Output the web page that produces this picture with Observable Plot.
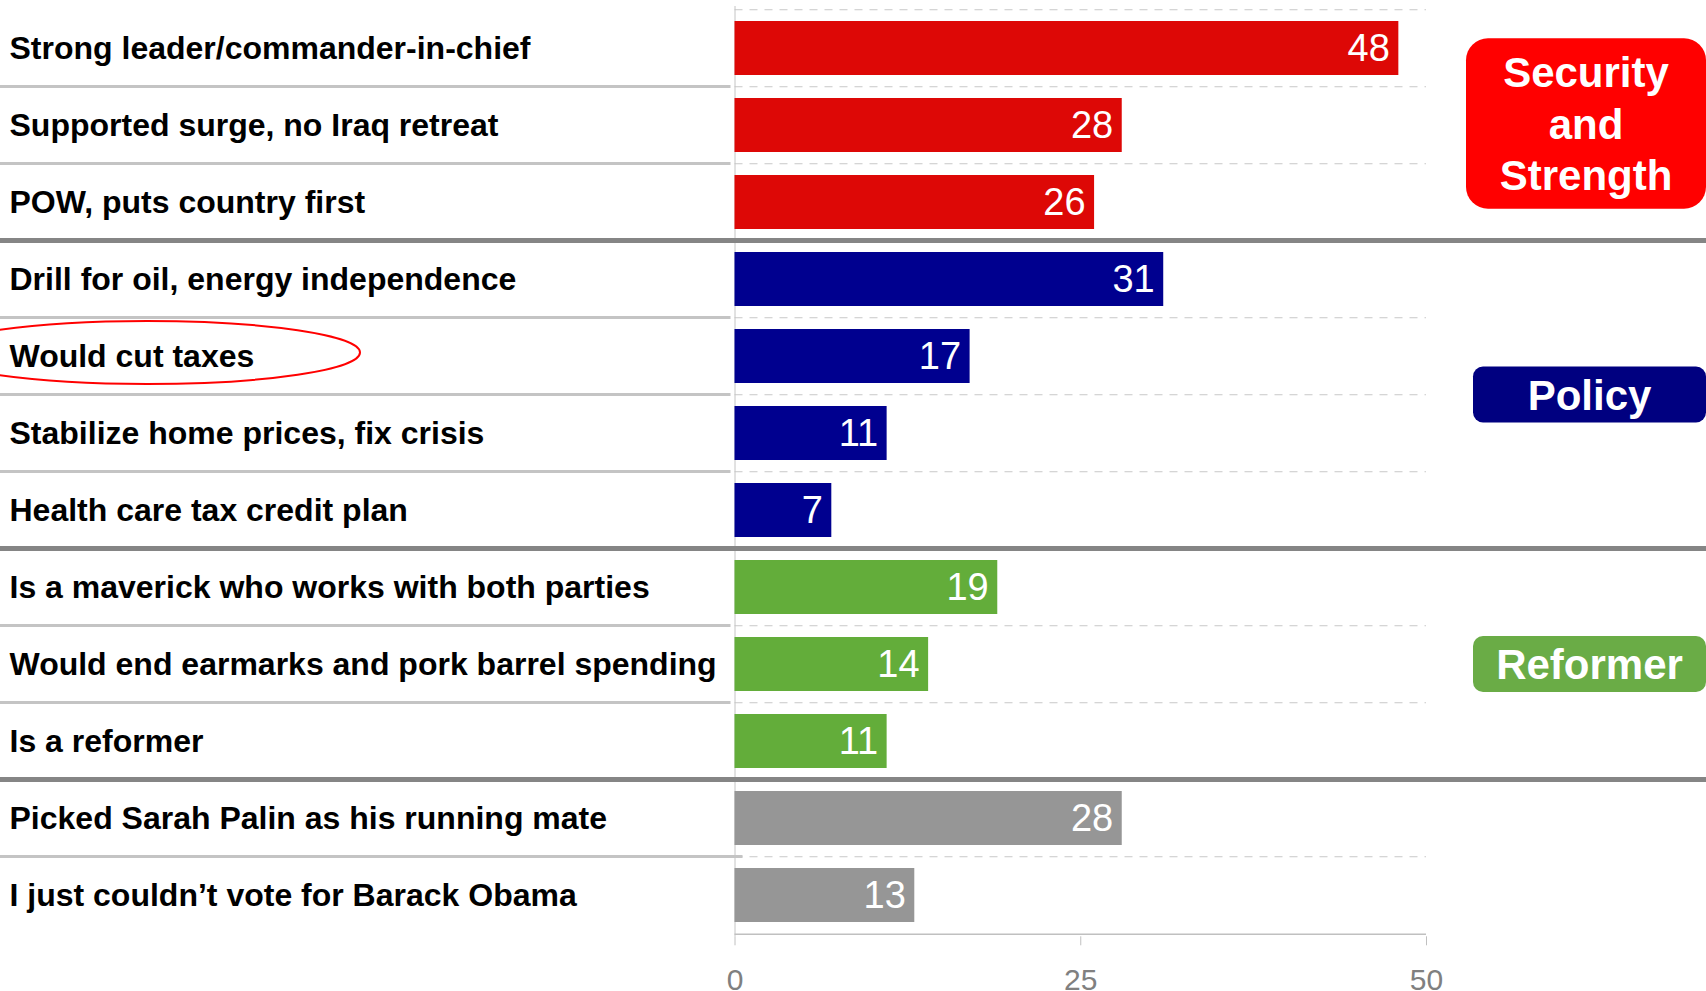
<!DOCTYPE html>
<html><head><meta charset="utf-8">
<script src="https://cdn.jsdelivr.net/npm/d3@7"></script>
<script src="https://cdn.jsdelivr.net/npm/@observablehq/plot@0.6"></script>
<style>body{margin:0;background:#fff;} svg{display:block;}</style>
</head><body><div id="chart"></div>
<script>
const categories = [
  "Strong leader/commander-in-chief",
  "Supported surge, no Iraq retreat",
  "POW, puts country first",
  "Drill for oil, energy independence",
  "Would cut taxes",
  "Stabilize home prices, fix crisis",
  "Health care tax credit plan",
  "Is a maverick who works with both parties",
  "Would end earmarks and pork barrel spending",
  "Is a reformer",
  "Picked Sarah Palin as his running mate",
  "I just couldn\u2019t vote for Barack Obama"
];
const values = [48, 28, 26, 31, 17, 11, 7, 19, 14, 11, 28, 13];
const groupOf = ["Security and Strength", "Security and Strength", "Security and Strength",
  "Policy", "Policy", "Policy", "Policy",
  "Reformer", "Reformer", "Reformer",
  "Other", "Other"];
const groupNames = ["Security and Strength", "Policy", "Reformer", "Other"];
const barColors = ["#dd0806", "#00008f", "#63ad3a", "#969696"];
const boxColors = ["#ff0000", "#000080", "#6aac46"];
const boxLines = [["Security", "and", "Strength"], ["Policy"], ["Reformer"]];
const xTicks = [0, 25, 50];
const highlighted = "Would cut taxes";

const W = 1706, H = 991, mL = 734.5, mR = 280, mT = 6, mB = 54.7;
const step = (H - mT - mB) / categories.length;
const data = categories.map((c, i) => ({label: c, value: values[i], group: groupOf[i]}));
const within = categories.filter((c, i) => i > 0 && groupOf[i] === groupOf[i - 1]);
const groupStarts = categories.filter((c, i) => i > 0 && groupOf[i] !== groupOf[i - 1]);
const FONT = "'Liberation Sans', Arial, Helvetica, sans-serif";

const chart = Plot.plot({
  width: W, height: H,
  marginLeft: mL, marginRight: mR, marginTop: mT, marginBottom: mB,
  style: {fontFamily: FONT, background: "#fff", overflow: "visible"},
  x: {domain: [0, 50]},
  y: {domain: categories, paddingInner: 0.3, paddingOuter: 0.15},
  color: {domain: groupNames, range: barColors},
  marks: [
    Plot.ruleY(categories, {y: d => d, dy: -step / 2, x1: 0, x2: 50, dx: 0, stroke: "#c8c8c8", strokeDasharray: "8,7"}),
    Plot.ruleX([0], {stroke: "#c4c4c4"}),
    Plot.barX(data, {x: "value", y: "label", fill: "group"}),
    Plot.text(data, {x: "value", y: "label", text: d => String(d.value), textAnchor: "end", dx: -9, fill: "white", fontSize: 38}),
    Plot.axisY({tickSize: 0, tickPadding: mL - 9, textAnchor: "start", fontSize: 32, fontWeight: "bold", fill: "black", label: null}),
    Plot.axisX({ticks: xTicks, tickSize: 9, tickPadding: 22.5, fontSize: 30, stroke: "#c0c0c0", fill: "#808080", label: null}),
    Plot.ruleY([categories[categories.length - 1]], {y: d => d, dy: step / 2, x1: 0, x2: 50, stroke: "#c0c0c0", strokeWidth: 1.5})
  ]
});
document.getElementById("chart").appendChild(chart);

const svg = d3.select(chart);
const ys = chart.scale("y");
const st = ys.step, bw = ys.bandwidth;
const bandTop = c => ys.apply(c) - (st - bw) / 2;
const lastCat = categories[categories.length - 1];

const g = svg.append("g");
within.forEach(c => {
  g.append("line").attr("x1", 0).attr("x2", c === lastCat ? mL + 8 : mL - 4)
    .attr("y1", bandTop(c)).attr("y2", bandTop(c))
    .attr("stroke", "#c4c4c4").attr("stroke-width", 3);
});
groupStarts.forEach(c => {
  g.append("line").attr("x1", 0).attr("x2", W).attr("y1", bandTop(c)).attr("y2", bandTop(c))
    .attr("stroke", "#858585").attr("stroke-width", 5);
});

// category boxes
boxLines.forEach((lines, k) => {
  const rows = categories.filter((c, i) => groupOf[i] === groupNames[k]);
  const y0 = bandTop(rows[0]), y1 = bandTop(rows[rows.length - 1]) + st;
  const n = lines.length;
  const cy = (y0 + y1) / 2 - (n > 1 ? 1.5 : 0);
  const lh = 51.5;
  const h = n === 1 ? 56 : n * lh + 16;
  const x0 = n === 1 ? 1473 : 1466;
  const cx = (x0 + W) / 2;
  g.append("rect").attr("x", x0).attr("y", cy - h / 2).attr("width", W - x0).attr("height", h)
    .attr("rx", n === 1 ? 10 : 22).attr("fill", boxColors[k]);
  lines.forEach((t, j) => {
    g.append("text").attr("x", cx).attr("y", cy + (j - (n - 1) / 2) * lh)
      .attr("dy", "0.36em").attr("text-anchor", "middle")
      .attr("font-family", FONT).attr("font-weight", "bold").attr("font-size", 42)
      .attr("fill", "white").text(t);
  });
});

// highlight ellipse
const hy = bandTop(highlighted) + st / 2 - 3.5;
g.append("ellipse").attr("cx", 147).attr("cy", hy).attr("rx", 213).attr("ry", 31.5)
  .attr("fill", "none").attr("stroke", "#ff0000").attr("stroke-width", 2);
</script>
</body></html>
